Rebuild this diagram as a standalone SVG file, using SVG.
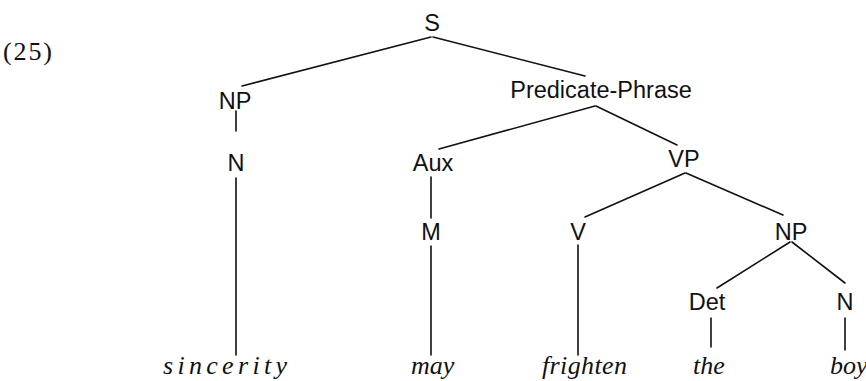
<svg xmlns="http://www.w3.org/2000/svg" width="866" height="381" viewBox="0 0 866 381">
<style>
.lbl{font-family:"Liberation Sans",Arial,sans-serif;font-size:23.5px;fill:#111;text-anchor:middle}
.w{font-family:"Liberation Serif","Times New Roman",serif;font-style:italic;font-size:26px;fill:#111}
.num{font-family:"Liberation Serif","Times New Roman",serif;font-size:26px;fill:#111}
.e{stroke:#111;stroke-width:1.6;fill:none;stroke-linecap:round}
</style>
<rect width="866" height="381" fill="#fff"/>
<text class="num" x="3" y="60" textLength="49" lengthAdjust="spacing">(25)</text>
<g id="connectors">
<line class="e" x1="431" y1="37" x2="242" y2="86"/>
<line class="e" x1="433" y1="37" x2="585" y2="76"/>
<line class="e" x1="236" y1="111" x2="236" y2="131"/>
<line class="e" x1="236" y1="178" x2="236" y2="355"/>
<line class="e" x1="595" y1="106" x2="439" y2="149"/>
<line class="e" x1="596" y1="106" x2="677" y2="145"/>
<line class="e" x1="431" y1="177" x2="431" y2="218"/>
<line class="e" x1="431" y1="246" x2="431" y2="355"/>
<line class="e" x1="685" y1="173" x2="585" y2="217"/>
<line class="e" x1="686" y1="173" x2="783" y2="215"/>
<line class="e" x1="578" y1="245" x2="578" y2="355"/>
<line class="e" x1="790" y1="242" x2="717" y2="288"/>
<line class="e" x1="792" y1="242" x2="845" y2="283"/>
<line class="e" x1="711" y1="318" x2="711" y2="347"/>
<line class="e" x1="845" y1="318" x2="845" y2="350"/>
</g>
<g id="S"><text class="lbl" x="432" y="31">S</text></g>
<g id="NP1"><text class="lbl" x="235" y="109">NP</text></g>
<g id="N1"><text class="lbl" x="236" y="171">N</text></g>
<g id="PredicatePhrase"><text class="lbl" x="601" y="98">Predicate-Phrase</text></g>
<g id="Aux"><text class="lbl" x="433" y="171">Aux</text></g>
<g id="VP"><text class="lbl" x="684" y="167">VP</text></g>
<g id="M"><text class="lbl" x="431" y="240">M</text></g>
<g id="V"><text class="lbl" x="578" y="240">V</text></g>
<g id="NP2"><text class="lbl" x="791" y="240">NP</text></g>
<g id="Det"><text class="lbl" x="707" y="310">Det</text></g>
<g id="N2"><text class="lbl" x="845" y="310">N</text></g>
<g id="w-sincerity"><text class="w" x="163" y="374" textLength="124" lengthAdjust="spacing">sincerity</text></g>
<g id="w-may"><text class="w" x="411" y="374">may</text></g>
<g id="w-frighten"><text class="w" x="542" y="374" textLength="85" lengthAdjust="spacing">frighten</text></g>
<g id="w-the"><text class="w" x="693" y="374">the</text></g>
<g id="w-boy"><text class="w" x="830" y="374">boy</text></g>
</svg>
